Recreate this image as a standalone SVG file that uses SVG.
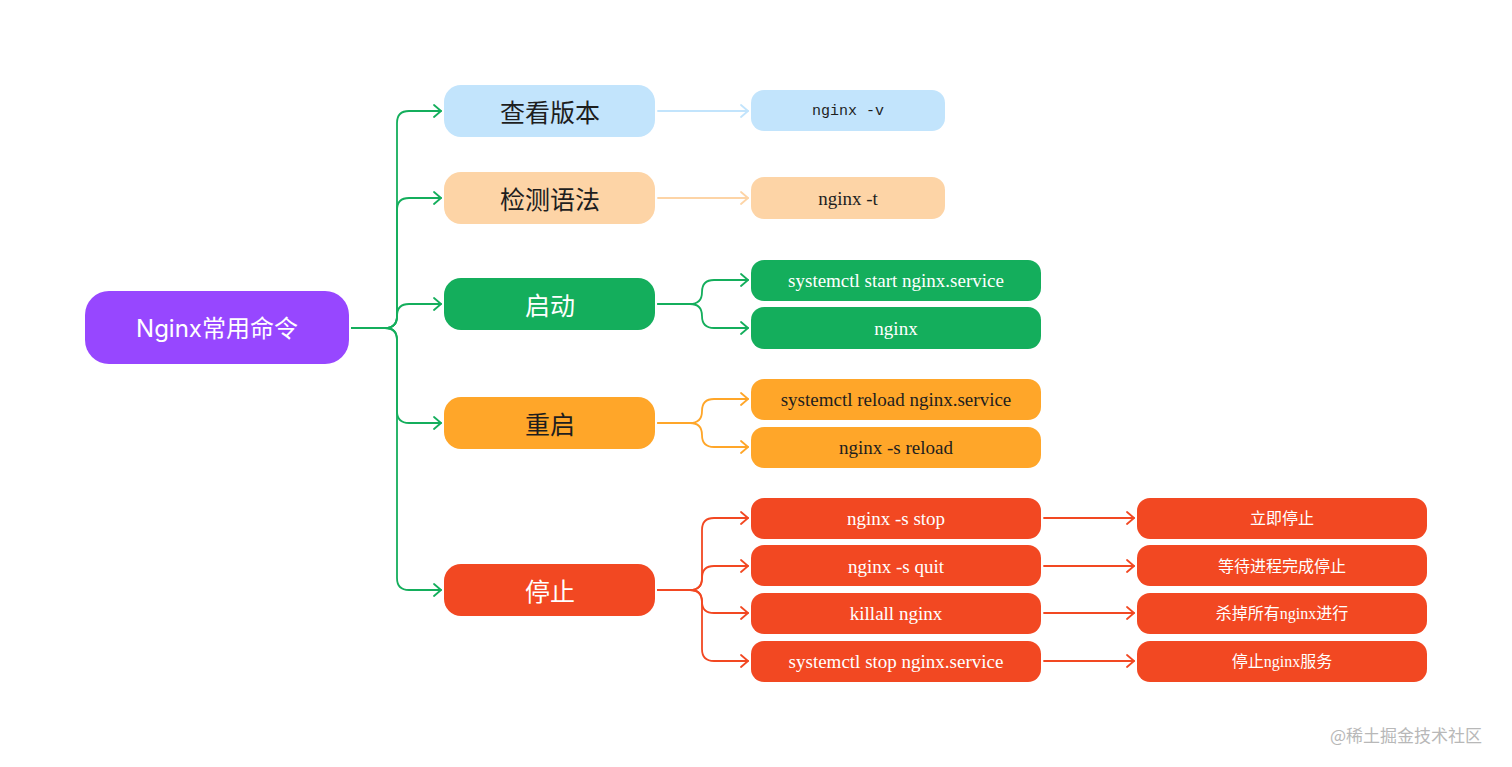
<svg xmlns="http://www.w3.org/2000/svg" width="1512" height="767" viewBox="0 0 1512 767">
<defs>
<style>
.c{fill:none;stroke-width:1.8;stroke-linecap:round;stroke-linejoin:round}
.g{stroke:#14ae5c}.b{stroke:#c2e4fc}.lo{stroke:#fdd4a6}.o{stroke:#ffa629}.r{stroke:#f24822}
.t{text-anchor:middle;dominant-baseline:central}
.root{font-family:Inter,"Noto Sans","Noto Sans CJK SC",sans-serif;font-size:24px;fill:#fff}
.l1{font-family:"Noto Sans CJK SC",sans-serif;font-size:25px}
.l2{font-family:"Liberation Serif","Noto Sans CJK SC",serif;font-size:19px}
.mono{font-family:"Liberation Mono","DejaVu Sans Mono",monospace;font-size:15px}
.l3{font-family:"Liberation Serif","Noto Sans CJK SC",sans-serif;font-size:16px;fill:#fff}
.dark{fill:#1e1e1e}.white{fill:#fff}
</style>
<marker id="ag" markerUnits="userSpaceOnUse" markerWidth="12" markerHeight="16" refX="8" refY="7" orient="auto"><path d="M1,1 L8,7 L1,13" fill="none" stroke="#14ae5c" stroke-width="1.8" stroke-linecap="round" stroke-linejoin="round"/></marker>
<marker id="ab" markerUnits="userSpaceOnUse" markerWidth="12" markerHeight="16" refX="8" refY="7" orient="auto"><path d="M1,1 L8,7 L1,13" fill="none" stroke="#c2e4fc" stroke-width="1.8" stroke-linecap="round" stroke-linejoin="round"/></marker>
<marker id="alo" markerUnits="userSpaceOnUse" markerWidth="12" markerHeight="16" refX="8" refY="7" orient="auto"><path d="M1,1 L8,7 L1,13" fill="none" stroke="#fdd4a6" stroke-width="1.8" stroke-linecap="round" stroke-linejoin="round"/></marker>
<marker id="ao" markerUnits="userSpaceOnUse" markerWidth="12" markerHeight="16" refX="8" refY="7" orient="auto"><path d="M1,1 L8,7 L1,13" fill="none" stroke="#ffa629" stroke-width="1.8" stroke-linecap="round" stroke-linejoin="round"/></marker>
<marker id="ar" markerUnits="userSpaceOnUse" markerWidth="12" markerHeight="16" refX="8" refY="7" orient="auto"><path d="M1,1 L8,7 L1,13" fill="none" stroke="#f24822" stroke-width="1.8" stroke-linecap="round" stroke-linejoin="round"/></marker>
</defs>
<rect width="1512" height="767" fill="#fff"/>

<g id="connectors">
<path class="c g" marker-end="url(#ag)" d="M352,328 H385 Q397,328 397,316 V123 Q397,111 409,111 H441"/>
<path class="c g" marker-end="url(#ag)" d="M352,328 H385 Q397,328 397,316 V210 Q397,198 409,198 H441"/>
<path class="c g" marker-end="url(#ag)" d="M352,328 H385 Q397,328 397,316 Q397,304 409,304 H441"/>
<path class="c g" marker-end="url(#ag)" d="M352,328 H385 Q397,328 397,340 V411 Q397,423 409,423 H441"/>
<path class="c g" marker-end="url(#ag)" d="M352,328 H385 Q397,328 397,340 V578 Q397,590 409,590 H441"/>
<path class="c b" marker-end="url(#ab)" d="M658,111 H748"/>
<path class="c lo" marker-end="url(#alo)" d="M658,198 H748"/>
<path class="c g" marker-end="url(#ag)" d="M658,304 H690 Q702,304 702,292 Q702,280 714,280 H748"/>
<path class="c g" marker-end="url(#ag)" d="M658,304 H690 Q702,304 702,316 Q702,328 714,328 H748"/>
<path class="c o" marker-end="url(#ao)" d="M658,423 H690 Q702,423 702,411 Q702,399 714,399 H748"/>
<path class="c o" marker-end="url(#ao)" d="M658,423 H690 Q702,423 702,435 Q702,447 714,447 H748"/>
<path class="c r" marker-end="url(#ar)" d="M658,590 H690 Q702,590 702,578 V530 Q702,518 714,518 H748"/>
<path class="c r" marker-end="url(#ar)" d="M658,590 H690 Q702,590 702,578 Q702,566 714,566 H748"/>
<path class="c r" marker-end="url(#ar)" d="M658,590 H690 Q702,590 702,602 Q702,613 714,613 H748"/>
<path class="c r" marker-end="url(#ar)" d="M658,590 H690 Q702,590 702,602 V649 Q702,661 714,661 H748"/>
<path class="c r" marker-end="url(#ar)" d="M1044,518 H1134"/>
<path class="c r" marker-end="url(#ar)" d="M1044,566 H1134"/>
<path class="c r" marker-end="url(#ar)" d="M1044,613 H1134"/>
<path class="c r" marker-end="url(#ar)" d="M1044,661 H1134"/>
</g>

<g id="root"><rect x="85" y="291" width="264" height="73" rx="24" fill="#9747ff"/><text class="t root" x="217" y="328">Nginx常用命令</text></g>

<g id="n-version"><rect x="444" y="85" width="211" height="52" rx="17" fill="#c2e4fc"/><text class="t l1 dark" x="550" y="111">查看版本</text></g>
<g id="n-syntax"><rect x="444" y="172" width="211" height="52" rx="17" fill="#fdd4a6"/><text class="t l1 dark" x="550" y="198">检测语法</text></g>
<g id="n-start"><rect x="444" y="278" width="211" height="52" rx="17" fill="#14ae5c"/><text class="t l1 white" x="550" y="304">启动</text></g>
<g id="n-restart"><rect x="444" y="397" width="211" height="52" rx="17" fill="#ffa629"/><text class="t l1 dark" x="550" y="423">重启</text></g>
<g id="n-stop"><rect x="444" y="564" width="211" height="52" rx="17" fill="#f24822"/><text class="t l1 white" x="550" y="590">停止</text></g>

<g id="c-v"><rect x="751" y="90" width="194" height="41" rx="13" fill="#c2e4fc"/><text class="t mono dark" x="848" y="111">nginx -v</text></g>
<g id="c-t"><rect x="751" y="177" width="194" height="42" rx="13" fill="#fdd4a6"/><text class="t l2 dark" x="848" y="198">nginx -t</text></g>
<g id="c-start1"><rect x="751" y="260" width="290" height="41" rx="13" fill="#14ae5c"/><text class="t l2 white" x="896" y="280">systemctl start nginx.service</text></g>
<g id="c-start2"><rect x="751" y="307" width="290" height="42" rx="13" fill="#14ae5c"/><text class="t l2 white" x="896" y="328">nginx</text></g>
<g id="c-reload1"><rect x="751" y="379" width="290" height="41" rx="13" fill="#ffa629"/><text class="t l2 dark" x="896" y="399">systemctl reload nginx.service</text></g>
<g id="c-reload2"><rect x="751" y="427" width="290" height="41" rx="13" fill="#ffa629"/><text class="t l2 dark" x="896" y="447">nginx -s reload</text></g>
<g id="c-stop1"><rect x="751" y="498" width="290" height="41" rx="13" fill="#f24822"/><text class="t l2 white" x="896" y="518">nginx -s stop</text></g>
<g id="c-stop2"><rect x="751" y="545" width="290" height="41" rx="13" fill="#f24822"/><text class="t l2 white" x="896" y="566">nginx -s quit</text></g>
<g id="c-stop3"><rect x="751" y="593" width="290" height="41" rx="13" fill="#f24822"/><text class="t l2 white" x="896" y="613">killall nginx</text></g>
<g id="c-stop4"><rect x="751" y="641" width="290" height="41" rx="13" fill="#f24822"/><text class="t l2 white" x="896" y="661">systemctl stop nginx.service</text></g>

<g id="d-stop1"><rect x="1137" y="498" width="290" height="41" rx="13" fill="#f24822"/><text class="t l3" x="1282" y="518">立即停止</text></g>
<g id="d-stop2"><rect x="1137" y="545" width="290" height="41" rx="13" fill="#f24822"/><text class="t l3" x="1282" y="566">等待进程完成停止</text></g>
<g id="d-stop3"><rect x="1137" y="593" width="290" height="41" rx="13" fill="#f24822"/><text class="t l3" x="1282" y="613">杀掉所有nginx进行</text></g>
<g id="d-stop4"><rect x="1137" y="641" width="290" height="41" rx="13" fill="#f24822"/><text class="t l3" x="1282" y="661">停止nginx服务</text></g>

<text x="1330" y="742" font-family="'Noto Sans CJK SC',sans-serif" font-size="17" fill="#b8b8b8">@稀土掘金技术社区</text>
</svg>
